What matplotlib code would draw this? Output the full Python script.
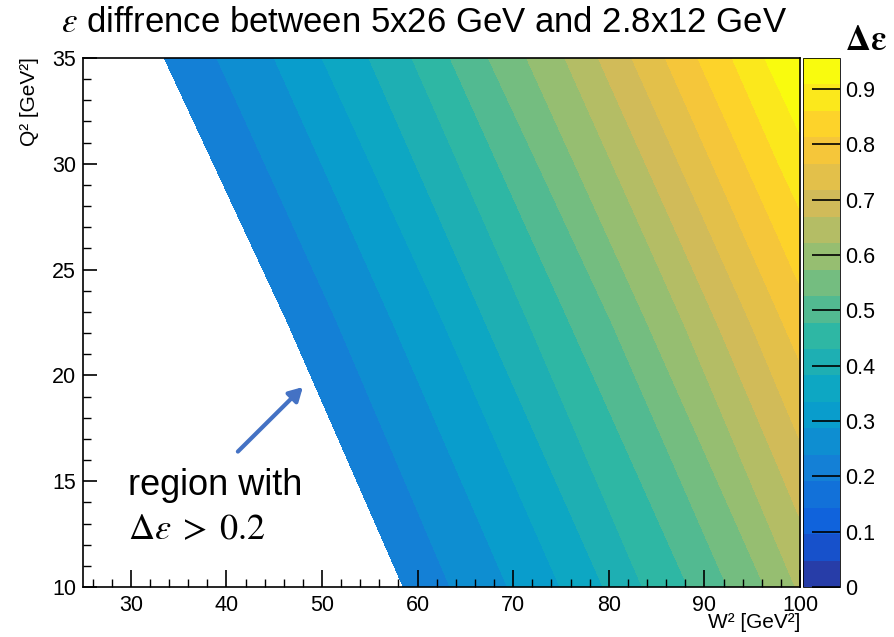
import numpy as np
import matplotlib
matplotlib.use("Agg")
import matplotlib.pyplot as plt
import matplotlib.tri as mtri
from matplotlib.colors import LinearSegmentedColormap, ListedColormap, BoundaryNorm
from matplotlib.cm import ScalarMappable

plt.rcParams['font.family'] = ['Liberation Sans', 'DejaVu Sans']
plt.rcParams['mathtext.fontset'] = 'stix'

q2_rows = [35.0, 22.5, 10.0]
# W^2 where delta-eps reaches 0.2 (histogram empty to the left)
edge_w2 = [33.5, 46.4, 58.5]
# W^2 where the colour level boundaries are crossed, starting at level 5 of 20
cross_top = [39.0, 45.0, 50.0, 54.9, 59.4, 63.4, 67.4, 71.4, 75.4, 78.9, 82.4, 85.9, 89.3, 92.9, 96.3]
cross_mid = [51.6, 57.4, 62.7, 67.1, 71.6, 75.9, 80.3, 84.0, 87.8, 91.3, 94.8, 98.2]
cross_bot = [63.4, 69.4, 74.9, 79.4, 83.5, 88.3, 92.4, 96.3, 99.5]
# delta-eps at the right edge W^2 = 100
right_val = [0.956, 0.789, 0.627]

zmin, zmax = 0.0, 0.956
ndiv = 20
cut = 0.2
w2_lo, w2_hi = 25.0, 100.0
q2_lo, q2_hi = 10.0, 35.0
first_level = 5

# ROOT kBird palette
stops = [0.0000, 0.1250, 0.2500, 0.3750, 0.5000, 0.6250, 0.7500, 0.8750, 1.0000]
red = [0.2082, 0.0592, 0.0780, 0.0232, 0.1802, 0.5301, 0.8186, 0.9956, 0.9764]
green = [0.1664, 0.3599, 0.5041, 0.6419, 0.7178, 0.7492, 0.7328, 0.7862, 0.9832]
blue = [0.5293, 0.8684, 0.8385, 0.7914, 0.6425, 0.4662, 0.3499, 0.1968, 0.0539]
bird = LinearSegmentedColormap.from_list("bird", list(zip(stops, zip(red, green, blue))), N=255)
band_colors = [bird(int((k + 0.99) * 255 / ndiv)) for k in range(ndiv)]

dz = (zmax - zmin) / ndiv

# points along each row, then stitch neighbouring rows together by level
x, y, z, start, sizes = [], [], [], [], []
for q2, e, cr, rv in zip(q2_rows, edge_w2, [cross_top, cross_mid, cross_bot], right_val):
    xs = [e] + cr + [w2_hi]
    zs = [cut] + [zmin + (first_level + i) * dz for i in range(len(cr))] + [rv]
    start.append(len(x))
    sizes.append(len(xs))
    x += xs
    y += [q2] * len(xs)
    z += zs

tris = []
for r in range(len(q2_rows) - 1):
    a0, b0 = start[r], start[r + 1]
    na, nb = sizes[r], sizes[r + 1]
    i = j = 0
    while i < na - 1 or j < nb - 1:
        if i < na - 1 and (j >= nb - 1 or z[a0 + i + 1] <= z[b0 + j + 1]):
            tris.append([a0 + i, b0 + j, a0 + i + 1])
            i += 1
        else:
            tris.append([a0 + i, b0 + j, b0 + j + 1])
            j += 1
tri = mtri.Triangulation(x, y, tris)

levels = [cut] + [zmin + k * dz for k in range(first_level, ndiv)] + [zmax + 0.01]

fig = plt.figure(figsize=(8.95, 6.37), dpi=100)
ax = fig.add_axes([83/895, 50/637, 717/895, 529/637])
ax.tricontourf(tri, z, levels=levels, colors=band_colors[first_level - 1:])
ax.set_xlim(w2_lo, w2_hi)
ax.set_ylim(q2_lo, q2_hi)

ax.set_xticks(np.arange(30, 101, 10))
ax.set_xticks(np.arange(26, 101, 2), minor=True)
ax.set_yticks(np.arange(10, 36, 5))
ax.set_yticks(np.arange(10, 36, 1), minor=True)
ax.tick_params(which='both', direction='in', top=False, right=False, labelsize=15.5, color='black')
ax.tick_params(axis='x', which='major', length=12, width=1.2, pad=6)
ax.tick_params(axis='x', which='minor', length=6, width=1)
ax.tick_params(axis='y', which='major', length=10, width=1.2, pad=5)
ax.tick_params(axis='y', which='minor', length=6, width=1)
for s in ax.spines.values():
    s.set_linewidth(1.2)

# colour palette axis
cax = fig.add_axes([803/895, 50/637, 37/895, 529/637])
bounds = np.linspace(zmin, zmax, ndiv + 1)
sm = ScalarMappable(norm=BoundaryNorm(bounds, ndiv), cmap=ListedColormap(band_colors))
cb = fig.colorbar(sm, cax=cax, ticks=np.arange(0, 0.95, 0.1))
cb.ax.set_yticklabels(['0', '0.1', '0.2', '0.3', '0.4', '0.5', '0.6', '0.7', '0.8', '0.9'])
cb.ax.tick_params(direction='in', length=20, width=1.2, labelsize=15.5, pad=4)
cb.ax.minorticks_off()
cb.outline.set_linewidth(0.6)

fig.text(424/895, 1 - 22/637, r"$\varepsilon$ diffrence between 5x26 GeV and 2.8x12 GeV",
         ha='center', va='center', fontsize=25)
fig.text(866/895, 1 - 40/637, r"$\mathbf{\Delta\varepsilon}$", ha='center', va='center', fontsize=25)
fig.text(800/895, 1 - 622/637, "W² [GeV²]", ha='right', va='center', fontsize=15)
fig.text(30/895, 1 - 57/637, "Q² [GeV²]", ha='center', va='top', rotation=90, fontsize=15)

ax.text(29.7, 14.8, "region with", ha='left', va='center', fontsize=26)
ax.text(29.7, 12.7, r"$\Delta\varepsilon\;>\;0.2$", ha='left', va='center', fontsize=26)
ax.annotate('', xy=(48.0, 19.45), xytext=(41.2, 16.4),
            arrowprops=dict(arrowstyle='-|>,head_length=0.8,head_width=0.45',
                            color='#4472C4', lw=3, shrinkA=0, shrinkB=0))

fig.savefig("out.png", dpi=100)
